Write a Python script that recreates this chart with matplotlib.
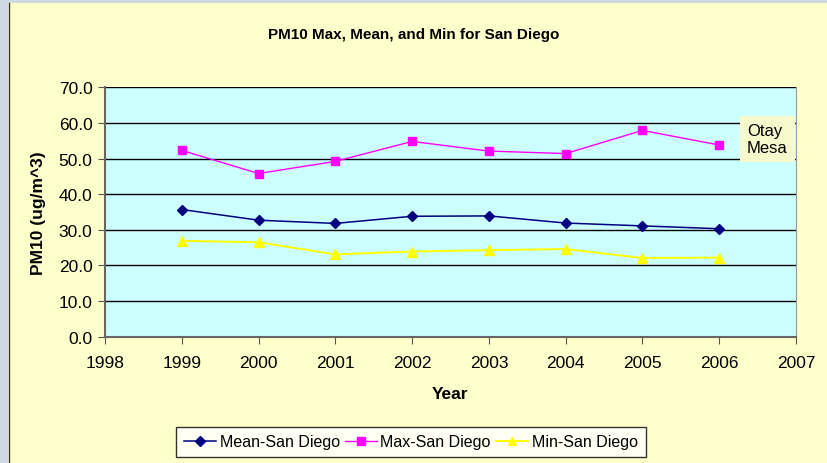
import matplotlib.pyplot as plt
from matplotlib.patches import Rectangle

plt.rcParams['font.family'] = ['Liberation Sans', 'DejaVu Sans']

years = [1999, 2000, 2001, 2002, 2003, 2004, 2005, 2006]
meanSD = [35.7, 32.7, 31.8, 33.8, 33.9, 31.9, 31.1, 30.3]
maxSD = [52.3, 45.8, 49.2, 54.8, 52.1, 51.4, 57.9, 53.8]
minSD = [26.9, 26.5, 23.1, 23.9, 24.3, 24.6, 22.1, 22.2]

fig = plt.figure(figsize=(8.27, 4.64), dpi=100)
fig.patch.set_facecolor('#FFFFCC')

# slide border strips (left and top)
fig.patches.append(Rectangle((0, 0), 8 / 827, 1, transform=fig.transFigure,
                             facecolor='#CFD9E1', edgecolor='none', zorder=0))
fig.patches.append(Rectangle((0, 1 - 4 / 464), 1, 4 / 464, transform=fig.transFigure,
                             facecolor='#CFD9E1', edgecolor='none', zorder=0))
fig.add_artist(plt.Line2D([8.5 / 827, 8.5 / 827], [0, 1 - 4 / 464], transform=fig.transFigure,
                          color='#333333', linewidth=1))

ax = fig.add_axes([0.127, 0.2722, 0.8355, 0.5375])
ax.set_facecolor('#CCFFFF')

ax.plot(years, meanSD, color='#000080', marker='D', markersize=5.5, linewidth=1.1, label='Mean-San Diego', zorder=3)
ax.plot(years, maxSD, color='#FF00FF', marker='s', markersize=6, linewidth=1.0, label='Max-San Diego', zorder=3)
ax.plot(years, minSD, color='#FFFF00', marker='^', markersize=7, linewidth=1.4, label='Min-San Diego', zorder=3)

ax.set_xlim(1998, 2007)
ax.set_ylim(0, 70)
ax.set_xticks(range(1998, 2008))
ax.set_yticks(range(0, 71, 10))
ax.set_yticklabels(['%.1f' % v for v in range(0, 71, 10)])
ax.grid(axis='y', color='black', linewidth=1)
ax.set_axisbelow(True)
ax.tick_params(labelsize=12.5, direction='out', length=5, color='#555555')
ax.tick_params(axis='x', pad=8)
ax.tick_params(axis='y', pad=4)
for side in ['left', 'bottom']:
    ax.spines[side].set_color('#666666')
    ax.spines[side].set_linewidth(1.5)
ax.spines['right'].set_color('#999999')
ax.spines['top'].set_visible(False)

ax.set_xlabel('Year', fontsize=12.5, fontweight='bold', labelpad=12)
ax.set_ylabel('PM10 (ug/m^3)', fontsize=12.5, fontweight='bold', labelpad=9)
fig.text(0.5, 0.925, 'PM10 Max, Mean, and Min for San Diego', ha='center', va='center',
         fontsize=11, fontweight='bold')

fig.text(747 / 827, 1 - 140 / 464, 'Otay\nMesa', ha='left', va='center', fontsize=12,
         linespacing=1.1,
         bbox=dict(boxstyle='square,pad=0.45', facecolor='#F5F9CC', edgecolor='none'))

leg = fig.legend(loc='center', bbox_to_anchor=(411 / 827, 1 - 443 / 464), ncol=3,
                 fontsize=11.5, frameon=True, fancybox=False, edgecolor='black',
                 handlelength=2.0, handletextpad=0.2, columnspacing=0.35, borderpad=0.5,
                 markerscale=0.9)
leg.get_frame().set_linewidth(1)

fig.savefig('out.png', dpi=100, facecolor=fig.get_facecolor())
